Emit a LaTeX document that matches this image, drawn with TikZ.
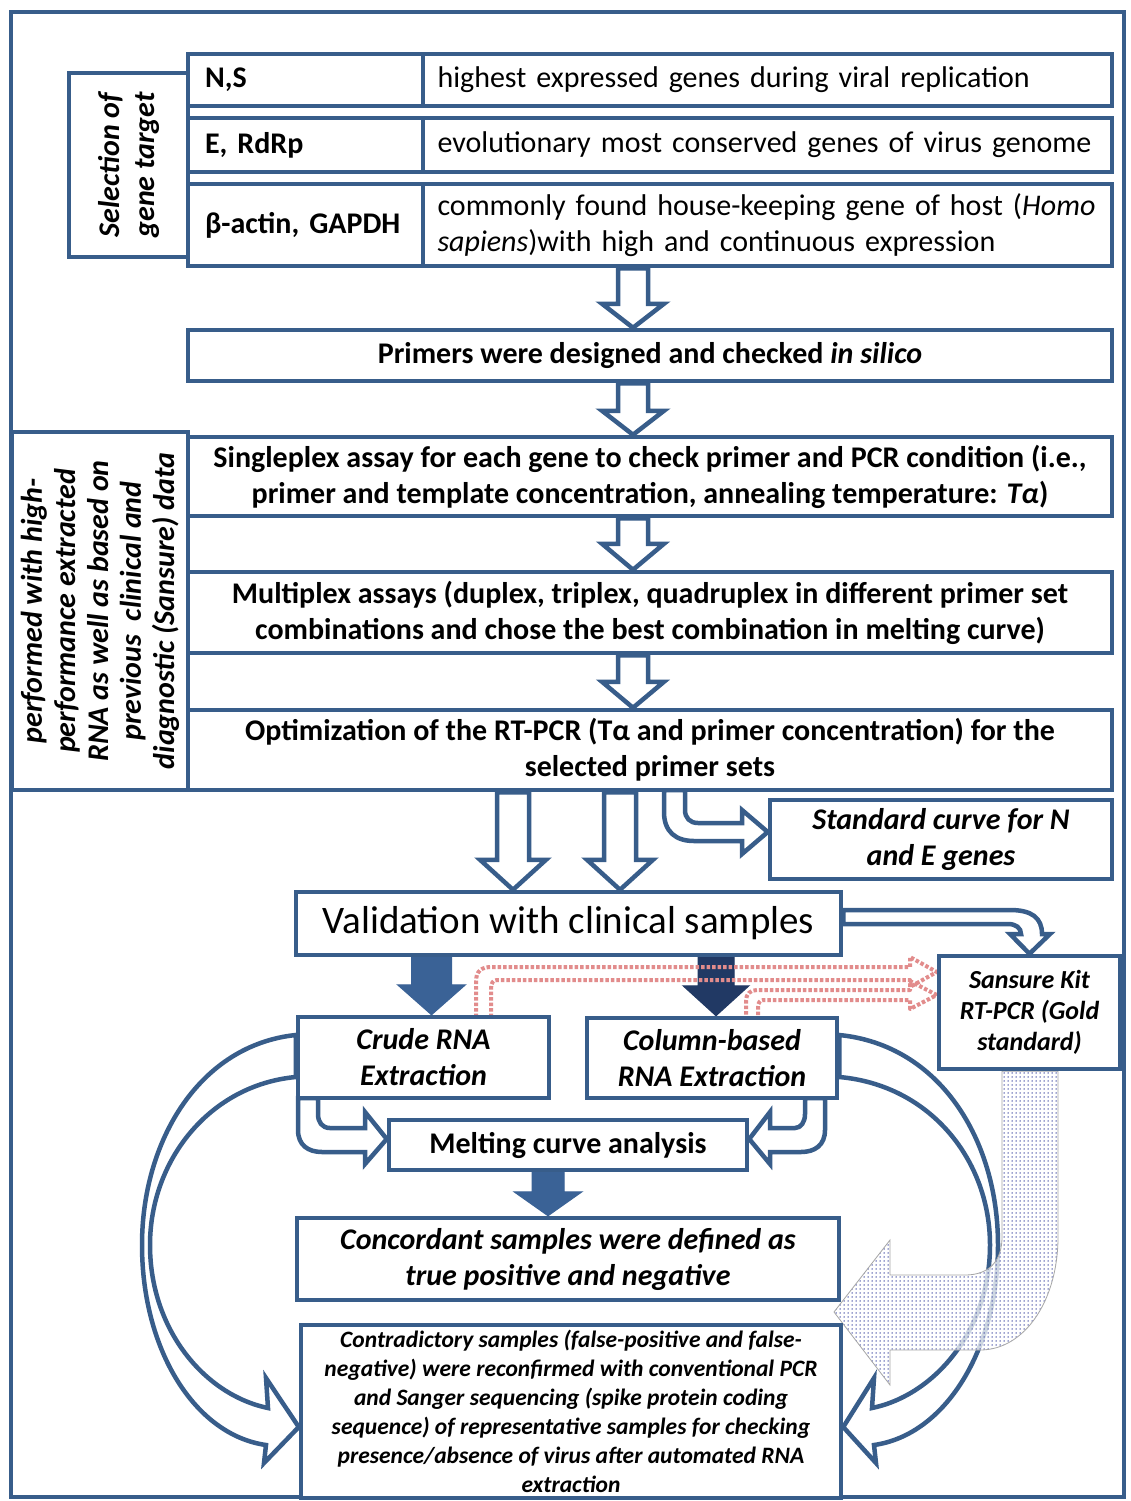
\documentclass[tikz,border=0pt]{standalone}
\usepackage{fontspec}
\setmainfont{Carlito}
\usetikzlibrary{calc,patterns,backgrounds}
\definecolor{bl}{RGB}{56,93,138}
\definecolor{blfill}{RGB}{58,98,150}
\definecolor{navy}{RGB}{33,57,100}
\definecolor{pinkdot}{RGB}{226,140,140}
\definecolor{dotc}{RGB}{60,70,160}
\pgfdeclarepatternformonly{mydots}{\pgfqpoint{-1pt}{-1pt}}{\pgfqpoint{1pt}{1pt}}{\pgfqpoint{4pt}{4pt}}%
  {\pgfpathcircle{\pgfqpoint{0pt}{0pt}}{0.75pt}\pgfusepath{fill}}
\tikzset{
  box/.style={draw=bl, line width=4.5pt, fill=white, inner sep=0pt, align=center, text=black},
  ftxt/.style={font=\fontsize{30}{36}\selectfont},
  ftxtb/.style={font=\fontsize{30}{36}\selectfont\bfseries},
  ftxtbi/.style={font=\fontsize{30}{36}\selectfont\bfseries\itshape},
  harrow/.style={draw=bl, line width=4.5pt, fill=white, line join=miter},
  sarrow/.style={draw=blfill, line width=1pt, fill=blfill},
  darrow/.style={draw=navy, line width=1pt, fill=navy},
  pinkarrow/.style={draw=pinkdot, line width=4pt, dash pattern=on 3.5pt off 2pt, line join=round},
  curvearrow/.style={draw=bl, line width=4.5pt, fill=white, line join=miter},
}
% #1 style, #2 start point (gives x), #3 tip point (gives y), #4 shaft half width, #5 head half width, #6 head length
\newcommand\blockdown[6]{%
  \path[#1] let \p1=#2, \p2=#3 in
    (\x1-#4,\y1) -- (\x1-#4,\y2+#6) -- (\x1-#5,\y2+#6) -- (\x1,\y2)
    -- (\x1+#5,\y2+#6) -- (\x1+#4,\y2+#6) -- (\x1+#4,\y1) -- cycle;}
\begin{document}
\begin{tikzpicture}[x=1pt,y=-1pt]
\useasboundingbox (0,0) rectangle (1131,1501);
% outer frame
\draw[bl, line width=4.5pt] (11,12) rectangle (1124,1497);

% ---- gene target selection
\node[box, rotate=90, minimum width=184, minimum height=119,
      font=\fontsize{30}{35}\selectfont\bfseries\itshape] (sel) at (128.5,165) {Selection of\\gene target};
\node[box, ftxtb, minimum width=235, minimum height=52, text width=201, inner xsep=17pt, align=left] (r1a) at (305.5,80) {N,S};
\node[box, ftxt, minimum width=689, minimum height=52, text width=660, inner xsep=14.5pt, align=left] (r1b) at (767.5,80) {highest expressed genes during viral replication};
\node[box, ftxtb, minimum width=235, minimum height=54, text width=201, inner xsep=17pt, align=left] (r2a) at (305.5,145) {E, RdRp};
\node[box, ftxt, minimum width=689, minimum height=54, text width=660, inner xsep=14.5pt, align=left] (r2b) at (767.5,145) {evolutionary most conserved genes of virus genome};
\node[box, ftxtb, minimum width=235, minimum height=82, text width=201, inner xsep=17pt, align=left] (r3a) at (305.5,225) {β-actin, GAPDH};
\node[box, ftxt, minimum width=689, minimum height=82, text width=660, inner xsep=14.5pt, align=left] (r3b) at (767.5,225) {commonly found house-keeping gene of host (\textit{Homo}\\\textit{sapiens})with high and continuous expression};

% ---- main chain
\node[box, ftxtb, minimum width=924, minimum height=51] (primers) at (650,355.5) {Primers were designed and checked \textit{in silico}};
\node[box, ftxtb, minimum width=924, minimum height=79] (single) at (650,476.5) {Singleplex assay for each gene to check primer and PCR condition (i.e.,\\primer and template concentration, annealing temperature: \textit{Tα})};
\node[box, ftxtb, minimum width=924, minimum height=81] (multi) at (650,612.5) {Multiplex assays (duplex, triplex, quadruplex in different primer set\\combinations and chose the best combination in melting curve)};
\node[box, ftxtb, minimum width=924, minimum height=80] (optim) at (650,750) {Optimization of the RT-PCR (Tα and primer concentration) for the\\selected primer sets};
\node[box, rotate=90, minimum width=358, minimum height=176,
      font=\fontsize{30}{33}\selectfont\bfseries\itshape] (perf) at (100,611) {performed with high-\\performance extracted\\RNA as well as based on\\previous\ \ clinical and\\diagnostic (Sansure) data};

\node[box, ftxtbi, minimum width=342, minimum height=79] (std) at (941,839.5) {Standard curve for N\\and E genes};
\node[box, font=\fontsize{39}{45}\selectfont, minimum width=545, minimum height=63] (valid) at (568.5,923.5) {Validation with clinical samples};
\node[box, font=\fontsize{26}{31}\selectfont\bfseries\itshape, minimum width=181, minimum height=113] (sansure) at (1029.5,1012.5) {Sansure Kit\\RT-PCR (Gold\\standard)};
\node[box, ftxtbi, minimum width=251, minimum height=81] (crude) at (423.5,1057.5) {Crude RNA\\Extraction};
\node[box, ftxtbi, minimum width=250, minimum height=80] (column) at (712,1058) {Column-based\\RNA Extraction};
\node[box, ftxtb, minimum width=358, minimum height=50] (melt) at (568,1145) {Melting curve analysis};
\node[box, ftxtbi, minimum width=542, minimum height=82] (conc) at (568,1259) {Concordant samples were defined as\\true positive and negative};
\node[box, font=\fontsize{23.5}{29}\selectfont\bfseries\itshape, minimum width=540, minimum height=173] (contra) at (571,1411.5) {Contradictory samples (false-positive and false-\\negative) were reconfirmed with conventional PCR\\and Sanger sequencing (spike protein coding\\sequence) of representative samples for checking\\presence/absence of virus after automated RNA\\extraction};

\begin{scope}[on background layer]
\fill[white] (0,0) rectangle (1131,1501);
% hollow arrows of the main chain
\blockdown{harrow}{($(r3b.south -| primers.north)+(-17,0)$)}{(primers.north)}{15pt}{31pt}{24pt}
\blockdown{harrow}{($(primers.south)+(-17,0)$)}{(single.north)}{15pt}{31pt}{24pt}
\blockdown{harrow}{($(single.south)+(-17,0)$)}{(multi.north)}{15pt}{31pt}{26pt}
\blockdown{harrow}{($(multi.south)+(-17,0)$)}{(optim.north)}{15pt}{31pt}{26pt}
\blockdown{harrow}{($(optim.south)+(-137,0)$)}{(valid.north)}{16pt}{33pt}{30pt}
\blockdown{harrow}{($(optim.south)+(-30,0)$)}{(valid.north)}{16pt}{33pt}{30pt}
% curved arrow to the standard curve box
\draw[harrow] (664,790) -- (664,812) .. controls (664,832) and (676,841) .. (694,841)
  -- (742,841) -- (742,854) -- (std.west |- 0,832) -- (742,810) -- (742,823)
  -- (698,823) .. controls (690,823) and (685,818) .. (685,810) -- (685,790) -- cycle;
% validation -> Sansure
\draw[harrow] (valid.east |- 0,910) -- (1010,910) .. controls (1032,910) and (1042,918) .. (1042,934)
  -- (1050,934) -- (sansure.north) -- (1010,934) -- (1021,934)
  .. controls (1021,928) and (1016,924) .. (1008,924) -- (valid.east |- 0,924) -- cycle;
% solid arrows
\blockdown{sarrow}{($(valid.south)+(-137,0)$)}{(crude.north)}{20pt}{34pt}{30pt}
\blockdown{darrow}{($(valid.south)+(147.5,0)$)}{(column.north)}{18pt}{33pt}{30pt}
\blockdown{sarrow}{($(melt.south)+(-20,0)$)}{(conc.north)}{16pt}{34pt}{24pt}
% pink dotted arrows to Sansure
\draw[pinkarrow] (476,1017) -- (476,982) .. controls (476,971) and (481,967) .. (492,967)
  -- (910,967) -- (910,957) -- (sansure.west |- 0,972) -- (910,987) -- (910,980)
  -- (497,980) .. controls (493,980) and (491,983) .. (491,989) -- (491,1017);
\draw[pinkarrow] (746,1020) -- (746,1001) .. controls (746,994) and (750,990) .. (757,990)
  -- (910,990) -- (910,981) -- (sansure.west |- 0,995) -- (910,1009) -- (910,1000)
  -- (763,1000) .. controls (760,1000) and (758,1003) .. (758,1007) -- (758,1020);
% small curved arrows into melting curve analysis
\draw[harrow] (298,1098) -- (298,1130) .. controls (298,1145) and (308,1152) .. (322,1152)
  -- (365,1152) -- (365,1164) -- (melt.west |- 0,1139) -- (365,1112) -- (365,1128)
  -- (330,1128) .. controls (322,1128) and (318,1122) .. (318,1114) -- (318,1098) -- cycle;
\draw[harrow] (825,1098) -- (825,1130) .. controls (825,1145) and (815,1152) .. (801,1152)
  -- (770,1152) -- (770,1164) -- (melt.east |- 0,1139) -- (770,1112) -- (770,1128)
  -- (795,1128) .. controls (801,1128) and (805,1122) .. (805,1114) -- (805,1098) -- cycle;
% big curved arrows into contradictory box
\draw[curvearrow] (crude.west |- 0,1035) .. controls (200,1045) and (142,1140) .. (142,1245)
  .. controls (142,1350) and (195,1435) .. (266,1445) -- (264,1463) -- (contra.west |- 0,1427)
  -- (266,1378) -- (268,1408) .. controls (205,1395) and (150,1330) .. (150,1245)
  .. controls (150,1160) and (210,1085) .. (crude.west |- 0,1077) -- cycle;
\draw[curvearrow] (column.east |- 0,1035) .. controls (940,1045) and (998,1140) .. (998,1245)
  .. controls (998,1350) and (945,1435) .. (874,1445) -- (876,1463) -- (contra.east |- 0,1427)
  -- (874,1378) -- (872,1408) .. controls (935,1395) and (990,1330) .. (990,1245)
  .. controls (990,1160) and (930,1085) .. (column.east |- 0,1077) -- cycle;
% dotted bent arrow from Sansure
\path[fill=white, fill opacity=0.75] (1002,1069) -- (1002,1237) .. controls (1002,1260) and (990,1275) .. (965,1275)
  -- (890,1275) -- (890,1240) -- (834,1312) -- (890,1385) -- (890,1350) -- (980,1350)
  .. controls (1025,1350) and (1058,1300) .. (1058,1237) -- (1058,1069) -- cycle;
\path[pattern=mydots, pattern color=dotc, draw=gray!70, line width=0.8pt]
  (sansure.south -| 1002,0) -- (1002,1237) .. controls (1002,1260) and (990,1275) .. (965,1275)
  -- (890,1275) -- (890,1240) -- (834,1312) -- (890,1385) -- (890,1350) -- (980,1350)
  .. controls (1025,1350) and (1058,1300) .. (1058,1237) -- (sansure.south -| 1058,0) -- cycle;
\end{scope}
\end{tikzpicture}
\end{document}
